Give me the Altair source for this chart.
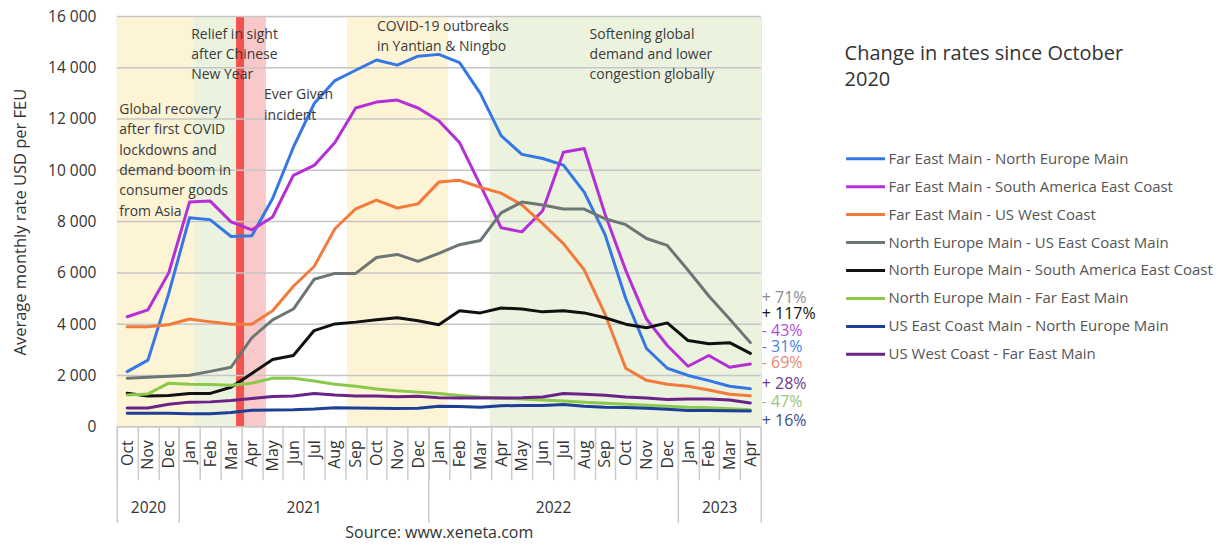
import json
import altair as alt
import pandas as pd

# ---------------- data ----------------
months = ["Oct", "Nov", "Dec",
          "Jan", "Feb", "Mar", "Apr", "May", "Jun", "Jul", "Aug", "Sep", "Oct", "Nov", "Dec",
          "Jan", "Feb", "Mar", "Apr", "May", "Jun", "Jul", "Aug", "Sep", "Oct", "Nov", "Dec",
          "Jan", "Feb", "Mar", "Apr"]
years = ["2020", "2021", "2022", "2023"]
year_mid = [1, 8.5, 20.5, 28.5]
year_edges = [-0.5, 2.5, 14.5, 26.5, 30.5]

routes = [
    "Far East Main - North Europe Main",
    "Far East Main - South America East Coast",
    "Far East Main - US West Coast",
    "North Europe Main -  US East Coast Main",
    "North Europe Main - South America East Coast",
    "North Europe Main - Far East Main",
    "US East Coast Main - North Europe Main",
    "US West Coast - Far East Main",
]
route_colors = ["#3578e5", "#b52fd6", "#f27a3a", "#6c7674", "#111111", "#8cc84b", "#1d3f96", "#6a2487"]

fe_ne = [2150, 2600, 5200, 8150, 8070, 7420, 7450, 8900, 10900, 12600, 13500, 13900, 14300, 14100, 14450,
         14520, 14200, 13000, 11350, 10620, 10460, 10200, 9150, 7500, 5000, 3050, 2280, 2000, 1800, 1580, 1480]
fe_saec = [4290, 4560, 6000, 8760, 8800, 7990, 7680, 8180, 9800, 10190, 11080, 12430, 12660, 12740, 12430,
           11930, 11080, 9420, 7760, 7600, 8420, 10700, 10850, 8300, 6100, 4200, 3170, 2360, 2780, 2320, 2450]
fe_uswc = [3900, 3900, 3980, 4200, 4090, 4000, 4000, 4520, 5480, 6250, 7720, 8500, 8840, 8530, 8690,
           9540, 9610, 9340, 9110, 8650, 7920, 7140, 6120, 4400, 2280, 1810, 1660, 1580, 1430, 1270, 1210]
ne_usec = [1890, 1930, 1970, 2010, 2160, 2320, 3470, 4170, 4590, 5750, 5980, 5980, 6600, 6720, 6450,
           6760, 7100, 7260, 8340, 8760, 8650, 8490, 8490, 8110, 7880, 7340, 7070, 6100, 5100, 4200, 3280]
ne_saec = [1310, 1200, 1220, 1300, 1300, 1540, 2080, 2620, 2780, 3750, 4010, 4080, 4170, 4250, 4130,
           3980, 4520, 4440, 4630, 4590, 4480, 4520, 4440, 4250, 4000, 3860, 4050, 3360, 3240, 3280, 2860]
ne_fe = [1240, 1280, 1700, 1660, 1650, 1620, 1700, 1890, 1890, 1780, 1660, 1580, 1470, 1400, 1350,
         1300, 1220, 1160, 1120, 1080, 1040, 1000, 960, 920, 880, 840, 800, 760, 740, 700, 660]
usec_ne = [530, 530, 530, 510, 510, 560, 640, 650, 660, 690, 740, 730, 720, 710, 720,
           800, 790, 760, 820, 830, 830, 870, 800, 760, 750, 720, 680, 630, 630, 620, 610]
uswc_fe = [730, 730, 880, 960, 970, 1020, 1100, 1180, 1200, 1300, 1240, 1200, 1200, 1170, 1190,
           1130, 1120, 1120, 1120, 1130, 1160, 1300, 1270, 1230, 1160, 1120, 1060, 1080, 1080, 1040, 930]
all_series = [fe_ne, fe_saec, fe_uswc, ne_usec, ne_saec, ne_fe, usec_ne, uswc_fe]

y_ticks = [0, 2000, 4000, 6000, 8000, 10000, 12000, 14000, 16000]

# background periods (in month-index units)
bg_start = [-0.5, 3.22, 5.24, 5.63, 10.58, 17.45]
bg_end = [3.22, 5.24, 5.63, 6.68, 15.43, 30.5]
bg_kind = ["recovery", "relief", "evergiven", "evergiven_after", "outbreaks", "softening"]
bg_kinds = ["recovery", "relief", "evergiven", "evergiven_after", "outbreaks", "softening"]
bg_colors = ["#fdf3d5", "#ebf3df", "#f4524f", "#f9c9c9", "#fdf3d5", "#ebf3df"]

# annotations
ann_text = [
    "Global recovery\nafter first COVID\nlockdowns and\ndemand boom in\nconsumer goods\nfrom Asia",
    "Relief in sight\nafter Chinese\nNew Year",
    "Ever Given\nincident",
    "COVID-19 outbreaks\nin Yantian & Ningbo",
    "Softening global\ndemand and lower\ncongestion globally",
]
ann_x = [-0.38, 3.08, 6.59, 12.02, 22.26]
ann_y = [12625, 15560, 13200, 15870, 15560]

# change since October 2020 labels
chg_text = ["+ 71%", "+ 117%", "- 43%", "- 31%", "- 69%", "+ 28%", "- 47%", "+ 16%"]
chg_y = [5020, 4400, 3745, 3127, 2471, 1660, 965, 232]
chg_colors = ["#8a8a8a", "#111111", "#b44ad6", "#4a80e2", "#e8876a", "#6a3a8c", "#9cc47a", "#3c4c8c"]

# ---------------- frames ----------------
rows = []
for name, vals in zip(routes, all_series):
    for i, v in enumerate(vals):
        rows.append({"route": name, "idx": i, "rate": v})
df = pd.DataFrame(rows)

bg_df = pd.DataFrame({"x0": bg_start, "x1": bg_end, "kind": bg_kind})
grid_df = pd.DataFrame({"v": y_ticks})
ann_df = pd.DataFrame({"x": ann_x, "y": ann_y, "t": ann_text})
chg_df = pd.DataFrame({"x": [30.55] * len(chg_text), "y": chg_y, "t": chg_text, "c": chg_colors})

FONT = "Open Sans"
W, H = 645, 411
xscale = alt.Scale(domain=[-0.5, 30.5], nice=False, zero=False)
yscale = alt.Scale(domain=[0, 16000], nice=False, zero=True)

month_expr = f"{json.dumps(months)}[datum.value]"
year_expr = f"{json.dumps(years)}[indexof({json.dumps(year_mid)}, datum.value)]"
half_steps = [i - 0.5 for i in range(32)]

common_ax = dict(orient="bottom", domain=False, grid=False, title=None, labelOverlap=False, labelFlush=False)

y_axis = alt.Axis(values=y_ticks, labelExpr="replace(format(datum.value, ','), ',', ' ')",
                  ticks=False, domain=False, grid=False, labelFontSize=15.5, labelColor="#333333",
                  labelPadding=21, labelFont=FONT,
                  title="Average monthly rate USD per FEU", titleFontSize=16.5,
                  titleFontWeight="normal", titleColor="#333333", titlePadding=19, titleFont=FONT)

bg = alt.Chart(bg_df).mark_rect().encode(
    x=alt.X("x0:Q", scale=xscale,
            axis=alt.Axis(values=half_steps, labels=False, ticks=True, tickSize=53,
                          tickColor="#cccccc", tickWidth=1.5, **common_ax)),
    x2="x1:Q",
    fill=alt.Fill("kind:N", scale=alt.Scale(domain=bg_kinds, range=bg_colors), legend=None),
)

grid = alt.Chart(grid_df).mark_rule(color="#c6c6c6", strokeWidth=1.5).encode(
    y=alt.Y("v:Q", scale=yscale, axis=y_axis)
)

lines = alt.Chart(df).mark_line(strokeWidth=3, strokeJoin="round", strokeCap="round").encode(
    x=alt.X("idx:Q", scale=xscale,
            axis=alt.Axis(values=list(range(31)), labelExpr=month_expr, labelAngle=-90, ticks=False,
                          labelFontSize=16, labelColor="#333333", labelPadding=13, labelFont=FONT,
                          **common_ax)),
    y=alt.Y("rate:Q", scale=yscale, axis=y_axis),
    color=alt.Color("route:N", scale=alt.Scale(domain=routes, range=route_colors),
                    legend=alt.Legend(orient="none", legendX=729, legendY=28,
                                      title=["Change in rates since October", "2020"],
                                      titleFontSize=20, titleFontWeight="normal", titleColor="#333333",
                                      titleFont=FONT, titleLineHeight=26, titlePadding=54, titleLimit=500,
                                      labelFontSize=15, labelColor="#555555", labelFont=FONT,
                                      symbolType="M-1,0H2", symbolSize=676, symbolStrokeWidth=3,
                                      labelOffset=15, rowPadding=5, labelLimit=500)),
    order=alt.Order("idx:Q"),
)

ann = alt.Chart(ann_df).mark_text(align="left", baseline="top", lineBreak="\n", lineHeight=20.4,
                                  fontSize=14, font=FONT, color="#3a3a3a").encode(
    x=alt.X("x:Q", scale=xscale,
            axis=alt.Axis(values=year_edges, labels=False, ticks=True, tickSize=96,
                          tickColor="#cccccc", tickWidth=1.5, **common_ax)),
    y=alt.Y("y:Q", scale=yscale, axis=y_axis),
    text="t:N",
)

chg = alt.Chart(chg_df).mark_text(align="left", baseline="middle", fontSize=16, font=FONT).encode(
    x=alt.X("x:Q", scale=xscale,
            axis=alt.Axis(values=year_mid, labelExpr=year_expr, ticks=False, labelFontSize=15.5,
                          labelColor="#333333", labelPadding=74, labelFont=FONT,
                          orient="bottom", domain=False, grid=False, labelOverlap=False, labelFlush=False,
                          title="Source: www.xeneta.com", titleFontSize=16, titleFontWeight="normal",
                          titleColor="#333333", titlePadding=8, titleFont=FONT)),
    y=alt.Y("y:Q", scale=yscale, axis=y_axis),
    text="t:N",
    color=alt.Color("c:N", scale=None),
)

chart = alt.layer(bg, grid, lines, ann, chg).resolve_scale(
    x="shared", color="independent"
).resolve_axis(x="independent", y="shared").properties(
    width=W, height=H,
    autosize=alt.AutoSizeParams(type="none"),
    padding={"left": 109, "top": 8, "right": 460, "bottom": 115},
).configure_view(stroke=None).configure(font=FONT)

chart.save("out.html", embed_options={"renderer": "svg", "actions": False})
